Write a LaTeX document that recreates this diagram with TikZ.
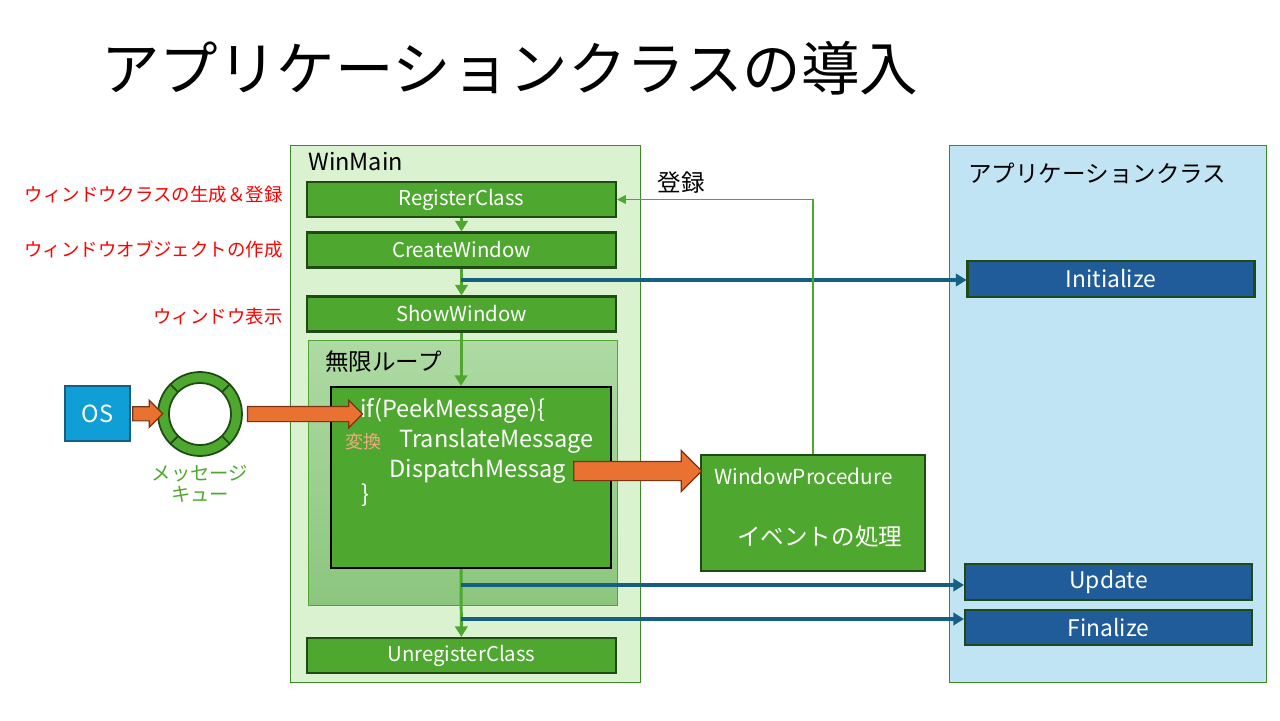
\documentclass[tikz,border=0pt]{standalone}
\usepackage{fontspec}
\setmainfont{Noto Sans CJK JP}
\usetikzlibrary{arrows.meta,shapes.arrows,calc}
\definecolor{wgreen}{HTML}{4EA72E}
\definecolor{wdark}{HTML}{1F4A14}
\definecolor{wpale}{HTML}{DAF2D0}
\definecolor{wframe}{HTML}{3B8A26}
\definecolor{looptop}{HTML}{AEDAA3}
\definecolor{loopbot}{HTML}{8CC67E}
\definecolor{apppale}{HTML}{C1E4F5}
\definecolor{appbox}{HTML}{1F5C99}
\definecolor{callblue}{HTML}{156082}
\definecolor{osblue}{HTML}{0F9ED5}
\definecolor{fatorange}{HTML}{E97132}
\definecolor{fatbrown}{HTML}{7A3414}
\definecolor{kanorange}{HTML}{F1A983}
\begin{document}
\begin{tikzpicture}[x=0.02cm,y=-0.02cm,
  gbox/.style={draw=wdark,line width=1.2pt,fill=wgreen,text=white,inner sep=0pt,
    font=\fontsize{11.6}{13}\selectfont,minimum width=6.18cm,minimum height=0.7cm},
  abox/.style={draw=wdark,line width=1.2pt,fill=appbox,text=white,inner sep=0pt,
    font=\fontsize{13}{15}\selectfont,minimum width=5.74cm,minimum height=0.71cm},
  note/.style={text=red,anchor=east,inner sep=0pt,font=\fontsize{10.5}{12}\selectfont},
  lbl/.style={anchor=west,inner sep=0pt,font=\fontsize{13.4}{15}\selectfont},
  code/.style={anchor=west,text=white,inner sep=0pt,font=\fontsize{13.4}{15}\selectfont},
  flow/.style={wgreen,line width=1.7pt,-{Triangle[length=6pt,width=7pt]}},
  call/.style={callblue,line width=1.9pt,-{Triangle[length=6pt,width=7pt]}},
  fat/.style={single arrow,draw=fatbrown,fill=fatorange,line width=0.7pt,
    inner xsep=0pt,single arrow tip angle=90}]
\useasboundingbox (0,0) rectangle (1280,720);
% title
\node (title) at (101,68) [anchor=west,inner sep=0pt,font=\fontsize{33.3}{36}\selectfont] {アプリケーションクラスの導入};
% containers
\draw[wframe,fill=wpale] (290,145) rectangle (640,682);
\node (winmain) at (308,162) [lbl] {WinMain};
\draw[wframe,fill=apppale] (949,145) rectangle (1266,682);
\node (appcls) at (968,173) [lbl] {アプリケーションクラス};
% WinMain steps
\node (reg) at (461.5,199.5) [gbox] {RegisterClass};
\node (create) at (461.5,250) [gbox] {CreateWindow};
\node (show) at (461.5,314) [gbox] {ShowWindow};
\node (unreg) at (461.5,655.5) [gbox] {UnregisterClass};
\node at (283,195) [note] {ウィンドウクラスの生成＆登録};
\node at (283,249) [note] {ウィンドウオブジェクトの作成};
\node at (283,316) [note] {ウィンドウ表示};
% infinite loop
\shade[top color=looptop,bottom color=loopbot] (308,340) rectangle (617,605);
\draw[wgreen] (308,340) rectangle (617,605);
\node (loop) at (325,362) [lbl] {無限ループ};
\node (body) at (471,477.5) [draw=black,line width=1.2pt,fill=wgreen,minimum width=5.6cm,minimum height=3.62cm] {};
\node (peek) at (360,411) [code] {if(PeekMessage)\{};
\node (trans) at (399,441) [code] {TranslateMessage};
\node (conv) at (345,442) [anchor=west,inner sep=0pt,text=kanorange,font=\fontsize{10.3}{12}\selectfont] {変換};
\node (disp) at (389,471) [code] {DispatchMessag};
\node (close) at (361,495) [code] {\}};
% window procedure
\node (proc) at (813,513) [draw=wdark,line width=1.2pt,fill=wgreen,minimum width=4.48cm,minimum height=2.32cm] {};
\node at (714,476) [anchor=west,inner sep=0pt,text=white,font=\fontsize{11.8}{13}\selectfont] {WindowProcedure};
\node at (737,537) [anchor=west,inner sep=0pt,text=white,font=\fontsize{13.4}{15}\selectfont] {イベントの処理};
% application class methods
\node (init) at (1111,279) [abox] {Initialize};
\node (upd) at (1108.5,582) [abox] {Update};
\node (fin) at (1108.5,627.5) [abox] {Finalize};
% OS and message queue
\node (os) at (97.5,413.5) [draw=callblue,line width=1pt,fill=osblue,text=white,minimum width=1.3cm,minimum height=1.1cm,font=\fontsize{13.4}{15}\selectfont] {OS};
\node (queue) at (200,414) [circle,minimum size=1.68cm,inner sep=0pt] {};
\fill[wgreen,even odd rule] (200,414) circle [radius=0.84cm] (200,414) circle [radius=0.62cm];
\draw[wdark,line width=1pt] (200,414) circle [radius=0.84cm] (200,414) circle [radius=0.62cm];
\foreach \a in {45,135,225,315}
  \draw[wdark,line width=1pt] (200,414) ++(\a:0.62cm) -- ++(\a:0.22cm);
\node (qlabel) at (200,484) [text=wgreen,align=center,font=\fontsize{11}{12}\selectfont] {メッセージ\\キュー};
% flow
\draw[flow] (reg) -- (create);
\draw[flow] (create) -- (show);
\draw[flow] (show.south -| 461,0) -- (body.north -| 461,0);
\draw[flow] (body.south -| 461,0) -- (unreg);
\coordinate (c1) at (461,280);
\coordinate (c2) at (461,585);
\coordinate (c3) at (461,619);
\draw[call] (c1) -- (c1 -| init.west);
\draw[call] (c2) -- (c2 -| upd.west);
\draw[call] (c3) -- (c3 -| fin.west);
\draw[wgreen,line width=0.6pt,-{Triangle[length=5pt,width=5pt]}] (proc.north) |- (reg.east);
\node (entry) at (681,183) [font=\fontsize{13.4}{15}\selectfont] {登録};
% message arrows
\node (a1) at ($(os.east)!0.5!(queue.west)$) [fat,minimum height=0.6cm,inner ysep=0.13cm,single arrow head extend=0.13cm] {};
\node (a2) at ($(queue.east)!0.5!(queue.east -| peek.west)$) [fat,minimum height=2.3cm,inner ysep=0.14cm,single arrow head extend=0.12cm] {};
\node (a3) at ($(disp.east)!0.5!(disp.east -| proc.west)$) [fat,minimum height=2.56cm,inner ysep=0.18cm,single arrow head extend=0.22cm] {};
\end{tikzpicture}
\end{document}
